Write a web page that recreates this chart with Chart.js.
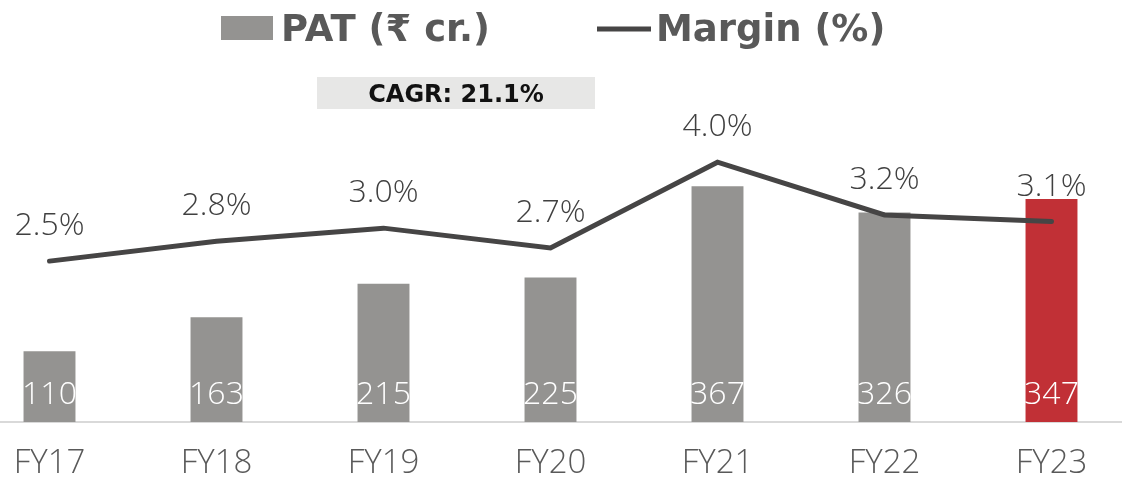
<!DOCTYPE html>
<html>
<head>
<meta charset="utf-8">
<script src="https://cdn.jsdelivr.net/npm/chart.js@4.4.0/dist/chart.umd.min.js"></script>
<style>
    html, body { margin: 0; padding: 0; background: #ffffff; overflow: hidden; }
    body { width: 1122px; height: 479px; position: relative; }
    #wrap { position: absolute; left: -34px; top: 0; width: 1169px; height: 479px; }
</style>
</head>
<body>
<div id="wrap"><canvas id="patChart" width="1169" height="479"></canvas></div>
<script>
// Данные
const years = ['FY17', 'FY18', 'FY19', 'FY20', 'FY21', 'FY22', 'FY23'];
const patValues = [110, 163, 215, 225, 367, 326, 347];
const marginValues = [2.5, 2.8, 3.0, 2.7, 4.0, 3.2, 3.1];
const cagrText = 'CAGR: 21.1%';

const GREY = '#949391';
const RED = '#C13036';
const LINE = '#464545';
const SHIFT = 34; // холст сдвинут влево

const barColors = years.map((y, i) => i === years.length - 1 ? RED : GREY);

// Легенда, плашка CAGR и подписи значений
const labelsPlugin = {
    id: 'labelsPlugin',
    afterDraw(chart) {
        const ctx = chart.ctx;
        ctx.save();

        // легенда
        ctx.fillStyle = GREY;
        ctx.fillRect(221 + SHIFT, 16, 52, 24);
        ctx.font = 'bold 37px "DejaVu Sans"';
        ctx.fillStyle = '#595959';
        ctx.textBaseline = 'alphabetic';
        ctx.textAlign = 'left';
        ctx.fillText(chart.data.datasets[1].label, 281 + SHIFT, 41);
        ctx.strokeStyle = LINE;
        ctx.lineWidth = 5;
        ctx.beginPath();
        ctx.moveTo(597 + SHIFT, 29);
        ctx.lineTo(651 + SHIFT, 29);
        ctx.stroke();
        ctx.fillText(chart.data.datasets[0].label, 656 + SHIFT, 41);

        // плашка CAGR
        ctx.fillStyle = '#E7E7E6';
        ctx.fillRect(317 + SHIFT, 77, 278, 32);
        ctx.fillStyle = '#111111';
        ctx.font = 'bold 24px "DejaVu Sans"';
        ctx.textAlign = 'center';
        ctx.fillText(cagrText, 456 + SHIFT, 102);

        // подписи столбцов
        const barMeta = chart.getDatasetMeta(1);
        ctx.font = '300 32px "Open Sans"';
        ctx.fillStyle = '#ffffff';
        barMeta.data.forEach((bar, i) => {
            ctx.fillText(String(patValues[i]), bar.x, bar.base - 18);
        });

        // подписи маржи
        const lineMeta = chart.getDatasetMeta(0);
        ctx.fillStyle = '#404040';
        lineMeta.data.forEach((pt, i) => {
            ctx.fillText(marginValues[i].toFixed(1) + '%', pt.x, pt.y - 26);
        });

        ctx.restore();
    }
};

const ctx = document.getElementById('patChart');
new Chart(ctx, {
    type: 'bar',
    data: {
        labels: years,
        datasets: [
            {
                type: 'line',
                label: 'Margin (%)',
                data: marginValues,
                yAxisID: 'y1',
                borderColor: LINE,
                borderWidth: 5,
                borderCapStyle: 'round',
                tension: 0,
                pointRadius: 0,
                fill: false,
                order: 0
            },
            {
                type: 'bar',
                label: 'PAT (₹ cr.)',
                data: patValues,
                yAxisID: 'y',
                backgroundColor: barColors,
                borderWidth: 0,
                categoryPercentage: 1,
                barPercentage: 0.311,
                order: 1
            }
        ]
    },
    options: {
        responsive: false,
        animation: false,
        layout: { padding: { top: 120, left: 0, right: 0, bottom: 0 } },
        plugins: {
            legend: { display: false },
            tooltip: { enabled: false }
        },
        scales: {
            x: {
                offset: true,
                grid: { display: false, drawTicks: false },
                border: { display: true, color: '#D9D9D9', width: 2 },
                ticks: {
                    color: '#595959',
                    font: { family: 'Open Sans', size: 33, weight: '300' },
                    padding: 22,
                    maxRotation: 0,
                    autoSkip: false
                },
                afterFit(scale) { scale.height = 57; }
            },
            y: {
                display: false,
                min: 0,
                max: 470
            },
            y1: {
                display: false,
                min: 0.06,
                max: 4.64
            }
        }
    },
    plugins: [labelsPlugin]
});
</script>
</body>
</html>
